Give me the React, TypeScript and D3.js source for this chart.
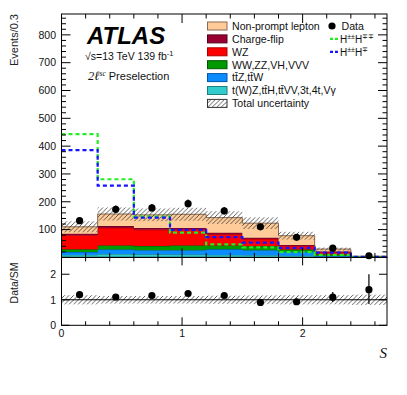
import React from 'react';
import * as d3 from 'd3';

// bin edges in S
const binEdges = [0, 0.3, 0.6, 0.9, 1.2, 1.5, 1.8, 2.1, 2.4, 2.7];

// background stack, bottom to top (events per bin)
const otherTop = [9, 12, 11, 10, 9, 8, 6, 2, 0.3];      // t(W)Z, ttH, ttVV, 3t, 4t, Vgamma
const ttV = [10, 16, 15, 16, 20, 18, 14, 4, 0.5];       // ttZ, ttW
const diboson = [10, 15, 15, 17, 14, 14, 8, 4, 0.5];    // WW, ZZ, VH, VVV
const wz = [51, 63, 58, 59, 40, 26, 14, 9, 1.2];
const chargeFlip = [5, 7, 7, 4, 6, 5, 3, 2, 0.3];
const nonPrompt = [25, 43, 47, 49, 54, 52, 33, 9, 1.5];

const relUnc = [0.18, 0.15, 0.15, 0.15, 0.16, 0.17, 0.18, 0.18, 0.2];

const dataVals = [132, 173, 178, 193, 167, 110, 72, 33, 6];
const dataErrUp = [12, 14, 14, 15, 14, 11, 9, 6, 2.6];
const dataErrDown = [11, 13, 13, 14, 13, 10, 8, 5.5, 2.4];

// signals
const sigDoubly = [443, 281, 147, 89, 47, 36, 19, 9, 1];   // H++H--
const sigSingly = [386, 258, 143, 99, 73, 53, 34, 17, 2];  // H++H-+

const mainYTicks = [100, 200, 300, 400, 500, 600, 700, 800];
const ratioYTicks = [0, 1, 2];
const xTicks = [0, 1, 2];

const layers = [
  { key: 'other', vals: otherTop, fill: '#33cccc', line: '#1b8080' },
  { key: 'ttv', vals: ttV, fill: '#0a8cff', line: '#0055aa' },
  { key: 'vv', vals: diboson, fill: '#009900', line: '#005500' },
  { key: 'wz', vals: wz, fill: '#ff0000', line: '#aa0000' },
  { key: 'qflip', vals: chargeFlip, fill: '#990033', line: '#550018' },
  { key: 'np', vals: nonPrompt, fill: '#ffcc99', line: '#8a6a50' },
];

const W = 407;
const H = 395;
const font = '"Liberation Sans", Arial, Helvetica, sans-serif';

const tbar = 't\u0304';

export default function App() {
  const x = d3.scaleLinear().domain([0, 2.7]).range([61.5, 387]);
  const y = d3.scaleLinear().domain([0, 875]).range([257.4, 14]);
  const yr = d3.scaleLinear().domain([0, 2.66]).range([325.3, 257.4]);

  const nBins = binEdges.length - 1;
  const rows = d3.range(nBins).map(i => {
    const r: any = {};
    layers.forEach(l => { r[l.key] = l.vals[i]; });
    return r;
  });
  const stacked = d3.stack().keys(layers.map(l => l.key))(rows);
  const totals = rows.map((_, i) => stacked[stacked.length - 1][i][1]);

  // histogram helpers
  const stepPts = (vals: number[]) => [
    ...vals.map((v, i) => [binEdges[i], v]),
    [binEdges[nBins], vals[nBins - 1]],
  ];
  const stepLine = d3.line<any>()
    .curve(d3.curveStepAfter)
    .x(d => x(d[0]))
    .y(d => y(d[1]));

  const area = d3.area<any>()
    .curve(d3.curveStepAfter)
    .x(d => x(d[0]))
    .y0(d => y(d[1]))
    .y1(d => y(d[2]));

  const left = x(0), right = x(2.7);
  const top = y(875), mid = y(0), bottom = yr(0);

  const minorMainY = d3.range(0, 875, 20);
  const minorX = d3.range(0, 2.71, 0.2);

  const legendRows = [
    { fill: '#ffcc99', line: '#8a6a50', text: 'Non-prompt lepton' },
    { fill: '#990033', line: '#550018', text: 'Charge-flip' },
    { fill: '#ff0000', line: '#aa0000', text: 'WZ' },
    { fill: '#009900', line: '#005500', text: 'WW,ZZ,VH,VVV' },
    { fill: '#0a8cff', line: '#0055aa', text: `t${tbar}Z,t${tbar}W` },
    { fill: '#33cccc', line: '#1b8080', text: `t(W)Z,t${tbar}H,t${tbar}VV,3t,4t,Vγ` },
    { fill: 'url(#hatch)', line: '#333', text: 'Total uncertainty' },
  ];
  const legY = (i: number) => 26 + i * 12.9;

  return (
    <svg width={W} height={H} style={{ position: 'absolute', left: 0, top: 0, background: '#fff' }}
      fontFamily={font}>
      <defs>
        <pattern id="hatch" patternUnits="userSpaceOnUse" width="4.5" height="4.5">
          <path d="M-1,1 l2,-2 M0,4.5 l4.5,-4.5 M3.5,5.5 l2,-2" stroke="#333" strokeWidth="0.8" />
        </pattern>
        <clipPath id="mainClip"><rect x={left} y={top} width={right - left} height={mid - top} /></clipPath>
        <clipPath id="ratioClip"><rect x={left} y={mid} width={right - left} height={bottom - mid} /></clipPath>
      </defs>

      {/* stacked backgrounds */}
      <g clipPath="url(#mainClip)">
        {stacked.map((s, li) => {
          const pts = [...s.map((d, i) => [binEdges[i], d[0], d[1]]),
            [binEdges[nBins], s[nBins - 1][0], s[nBins - 1][1]]];
          return (
            <g key={layers[li].key}>
              <path d={area(pts) || ''} fill={layers[li].fill} />
              <path d={stepLine(stepPts(s.map(d => d[1]))) || ''} fill="none"
                stroke={layers[li].line} strokeWidth={1} />
            </g>
          );
        })}

        {/* total uncertainty */}
        {totals.map((t, i) => (
          <rect key={i} x={x(binEdges[i])} width={x(binEdges[i + 1]) - x(binEdges[i])}
            y={y(t * (1 + relUnc[i]))} height={y(t * (1 - relUnc[i])) - y(t * (1 + relUnc[i]))}
            fill="url(#hatch)" />
        ))}

        {/* signals */}
        <path d={stepLine(stepPts(sigDoubly)) || ''} fill="none" stroke="#22ee22"
          strokeWidth={2.2} strokeDasharray="4,3" />
        <path d={stepLine(stepPts(sigSingly)) || ''} fill="none" stroke="#1414ff"
          strokeWidth={2.2} strokeDasharray="4,3" />
      </g>

      {/* data */}
      {dataVals.map((v, i) => {
        const cx = x((binEdges[i] + binEdges[i + 1]) / 2);
        return (
          <g key={i}>
            <line x1={cx} x2={cx} y1={y(v + dataErrUp[i])} y2={y(v - dataErrDown[i])} stroke="#000" strokeWidth={1.2} />
            <circle cx={cx} cy={y(v)} r={3.6} fill="#000" />
          </g>
        );
      })}

      {/* ratio panel */}
      <g clipPath="url(#ratioClip)">
        {totals.map((t, i) => (
          <rect key={i} x={x(binEdges[i])} width={x(binEdges[i + 1]) - x(binEdges[i])}
            y={yr(1 + relUnc[i])} height={yr(1 - relUnc[i]) - yr(1 + relUnc[i])}
            fill="url(#hatch)" />
        ))}
        <line x1={left} x2={right} y1={yr(1)} y2={yr(1)} stroke="#000" strokeWidth={1} />
        {dataVals.map((v, i) => {
          const cx = x((binEdges[i] + binEdges[i + 1]) / 2);
          const t = totals[i];
          return (
            <g key={i}>
              <line x1={cx} x2={cx} y1={yr((v + dataErrUp[i]) / t)} y2={yr((v - dataErrDown[i]) / t)}
                stroke="#000" strokeWidth={1.2} />
              <circle cx={cx} cy={yr(v / t)} r={3.6} fill="#000" />
            </g>
          );
        })}
      </g>

      {/* frames */}
      <rect x={left} y={top} width={right - left} height={mid - top} fill="none" stroke="#000" strokeWidth={1} />
      <rect x={left} y={mid} width={right - left} height={bottom - mid} fill="none" stroke="#000" strokeWidth={1} />

      {/* main y ticks */}
      {minorMainY.map(v => {
        const len = v % 100 === 0 ? 9 : 4.5;
        return (
          <g key={v} stroke="#000" strokeWidth={1}>
            <line x1={left} x2={left + len} y1={y(v)} y2={y(v)} />
            <line x1={right} x2={right - len} y1={y(v)} y2={y(v)} />
          </g>
        );
      })}
      {mainYTicks.map(v => (
        <text key={v} x={56} y={y(v)} dy="0.36em" textAnchor="end" fontSize={10.5} fill="#111">{v}</text>
      ))}

      {/* x ticks: main panel (top and bottom), ratio panel (top and bottom) */}
      {minorX.map(v => {
        const major = Math.abs(v - Math.round(v)) < 1e-6;
        const lm = major ? 9 : 4.5;
        const lr = major ? 8 : 4;
        return (
          <g key={v.toFixed(1)} stroke="#000" strokeWidth={1}>
            <line x1={x(v)} x2={x(v)} y1={top} y2={top + lm} />
            <line x1={x(v)} x2={x(v)} y1={mid} y2={mid - lm} />
            <line x1={x(v)} x2={x(v)} y1={mid} y2={mid + lr} />
            <line x1={x(v)} x2={x(v)} y1={bottom} y2={bottom - lr} />
          </g>
        );
      })}
      {xTicks.map(v => (
        <text key={v} x={x(v)} y={337} textAnchor="middle" fontSize={10.5} fill="#111">{v}</text>
      ))}

      {/* ratio y ticks */}
      {ratioYTicks.map(v => (
        <g key={v}>
          <line x1={left} x2={left + 8} y1={yr(v)} y2={yr(v)} stroke="#000" />
          <line x1={right} x2={right - 8} y1={yr(v)} y2={yr(v)} stroke="#000" />
          <text x={56} y={yr(v)} dy="0.36em" textAnchor="end" fontSize={10.5} fill="#111">{v}</text>
        </g>
      ))}

      {/* axis titles */}
      <text transform="translate(18,14) rotate(-90)" textAnchor="end" fontSize={11} fill="#222">Events/0.3</text>
      <text transform="translate(18,283) rotate(-90)" textAnchor="middle" fontSize={10.5} fill="#222">Data/SM</text>
      <text x={387} y={358} textAnchor="end" fontSize={15} fontStyle="italic"
        fontFamily='"Liberation Serif", "DejaVu Serif", serif' fill="#111">S</text>

      {/* ATLAS label */}
      <text x={87} y={44} fontSize={24} fontWeight="bold" fontStyle="italic" fill="#000">ATLAS</text>
      <text x={85} y={60} fontSize={10.5} fill="#111">√s=13 TeV 139 fb<tspan dy={-4} fontSize={7.5}>-1</tspan></text>
      <text x={88} y={80} fontSize={11} fill="#111">
        <tspan fontFamily='"Liberation Serif", serif' fontStyle="italic" fontSize={12.5}>2ℓ</tspan>
        <tspan dy={-4} fontSize={7.5} fontFamily='"Liberation Serif", serif' fontStyle="italic">sc</tspan>
        <tspan dy={4}> Preselection</tspan>
      </text>

      {/* legend */}
      {legendRows.map((r, i) => (
        <g key={i}>
          <rect x={207.5} y={legY(i) - 4} width={19.5} height={8} fill={r.fill} stroke={r.line} strokeWidth={1} />
          <text x={232} y={legY(i)} dy="0.36em" fontSize={10.6} fill="#111">{r.text}</text>
        </g>
      ))}
      <circle cx={332} cy={legY(0)} r={3.6} fill="#000" />
      <text x={341.5} y={legY(0)} dy="0.36em" fontSize={10.6} fill="#111">Data</text>
      <line x1={330} x2={338} y1={legY(1)} y2={legY(1)} stroke="#22ee22" strokeWidth={2.2} strokeDasharray="3,2" />
      <text x={340} y={legY(1) + 4} fontSize={10} fill="#111">H<tspan dy={-4} fontSize={7}>±±</tspan><tspan dy={4}>H</tspan><tspan dy={-4} fontSize={7}>∓∓</tspan></text>
      <line x1={330} x2={338} y1={legY(2)} y2={legY(2)} stroke="#1414ff" strokeWidth={2.2} strokeDasharray="3,2" />
      <text x={340} y={legY(2) + 4} fontSize={10} fill="#111">H<tspan dy={-4} fontSize={7}>±±</tspan><tspan dy={4}>H</tspan><tspan dy={-4} fontSize={7}>∓</tspan></text>
    </svg>
  );
}
